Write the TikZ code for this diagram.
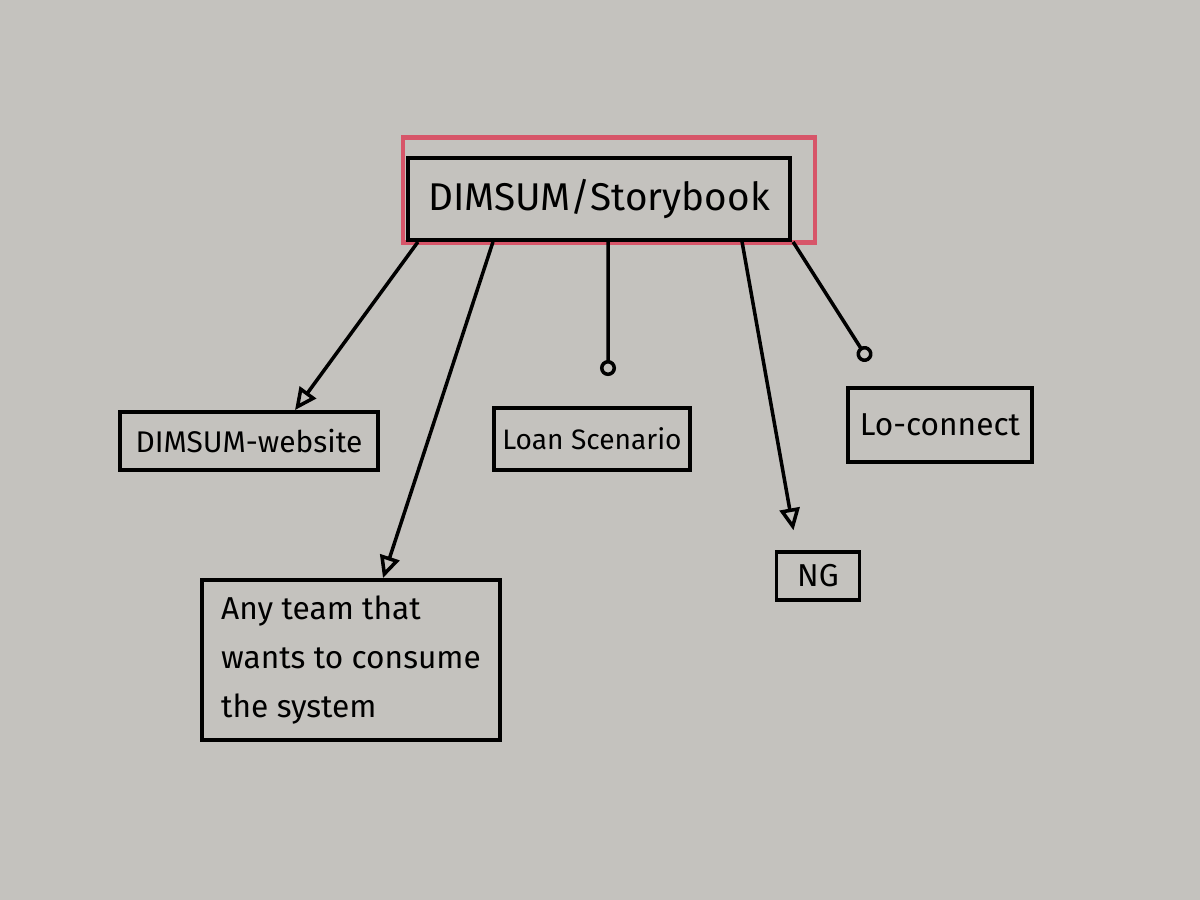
\documentclass[tikz,border=0pt]{standalone}
\usepackage{fontspec}
\setmainfont{Fira Sans}
\usepackage{tikz}
\usetikzlibrary{arrows.meta, positioning}

\definecolor{board}{RGB}{196,194,190}
\definecolor{marker}{RGB}{215,85,105}

\tikzset{
  box/.style={draw=black, line width=1.1pt, inner sep=2pt},
  link/.style={draw=black, line width=1pt},
  opentip/.style={link, -{Triangle[open, length=2.2mm, width=2mm]}},
  roundtip/.style={link, -{Circle[open, length=1.6mm]}}
}

\begin{document}
\begin{tikzpicture}[x=0.01cm, y=-0.01cm]
    % Whiteboard
    \fill[board] (0,0) rectangle (1200,900);
    \useasboundingbox (0,0) rectangle (1200,900);

    % Draw main system box with red frame
    \node[draw=marker, line width=1.2pt, minimum width=4.12cm, minimum height=1.05cm] (frame) at (609,190) {};
    \node[box, minimum width=3.82cm, minimum height=0.82cm, font=\fontsize{11}{13}\selectfont] (main) at (599,199) {DIMSUM/Storybook};

    % Draw consumer boxes
    \node[box, minimum width=2.58cm, minimum height=0.58cm, font=\fontsize{8.5}{10}\selectfont] (web) at (249,441) {DIMSUM-website};
    \node[box, minimum width=2.98cm, minimum height=1.6cm, align=left, font=\fontsize{9}{14}\selectfont] (team) at (351,660) {Any team that\\wants to consume\\the system};
    \node[box, minimum width=1.96cm, minimum height=0.62cm, font=\fontsize{8}{10}\selectfont] (loan) at (592,439) {Loan Scenario};
    \node[box, minimum width=0.83cm, minimum height=0.48cm, font=\fontsize{9}{11}\selectfont] (ng) at (818,576) {NG};
    \node[box, minimum width=1.84cm, minimum height=0.74cm, font=\fontsize{9}{11}\selectfont] (lo) at (940,425) {Lo-connect};

    % Connectors
    \draw[opentip] ([xshift=-1.81cm]main.south) -- ([xshift=0.46cm]web.north);
    \draw[opentip] ([xshift=-1.06cm]main.south) -- ([xshift=0.32cm]team.north);
    \draw[roundtip, shorten >=0.3cm] ([xshift=0.09cm]main.south) -- ([xshift=0.16cm]loan.north);
    \draw[opentip, shorten >=0.2cm] ([xshift=1.43cm]main.south) -- ([xshift=-0.21cm]ng.north);
    \draw[roundtip, shorten >=0.3cm] ([xshift=1.94cm]main.south) -- ([xshift=-0.55cm]lo.north);
\end{tikzpicture}
\end{document}
